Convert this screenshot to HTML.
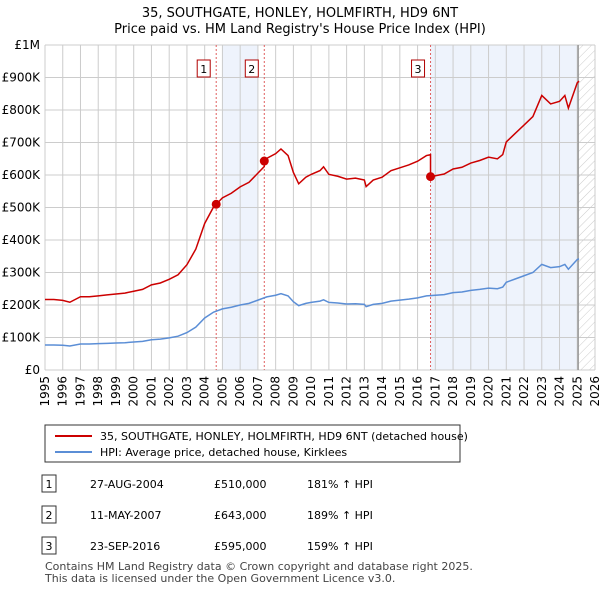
<!DOCTYPE html>
<html><head><meta charset="utf-8"><style>
body{margin:0;background:#fff;font-family:"Liberation Sans","DejaVu Sans",sans-serif;}
svg text{font-family:"DejaVu Sans","Liberation Sans",sans-serif;}
</style></head><body>
<svg id="c" width="600" height="590" xmlns="http://www.w3.org/2000/svg">
<defs><pattern id="hatch" width="6" height="6" patternUnits="userSpaceOnUse" patternTransform="rotate(45)"><line x1="0" y1="0" x2="0" y2="6" stroke="#ccc" stroke-width="1"/></pattern></defs>
<text x="300" y="17" text-anchor="middle" font-size="13" fill="#000">35, SOUTHGATE, HONLEY, HOLMFIRTH, HD9 6NT</text>
<text x="300" y="33" text-anchor="middle" font-size="13" fill="#000">Price paid vs. HM Land Registry's House Price Index (HPI)</text>
<g id="plot"></g>
<rect x="45" y="425" width="415" height="37" fill="#fff" stroke="#333"/>
<line x1="55" y1="436" x2="92" y2="436" stroke="#cc0000" stroke-width="2"/>
<text x="100" y="440" font-size="11">35, SOUTHGATE, HONLEY, HOLMFIRTH, HD9 6NT (detached house)</text>
<line x1="55" y1="452" x2="92" y2="452" stroke="#5b8ed6" stroke-width="2"/>
<text x="100" y="456" font-size="11">HPI: Average price, detached house, Kirklees</text>
<g id="table" font-size="11"></g>
<text x="45" y="570" font-size="11" fill="#444">Contains HM Land Registry data © Crown copyright and database right 2025.</text>
<text x="45" y="582" font-size="11" fill="#444">This data is licensed under the Open Government Licence v3.0.</text>
</svg>
<script>
const hpiYears=[1995,1995.5,1996,1996.4,1997,1997.5,1998,1998.5,1999,1999.5,2000,2000.5,2001,2001.5,2002,2002.5,2003,2003.5,2004,2004.5,2005,2005.5,2006,2006.5,2007,2007.5,2008,2008.3,2008.7,2009,2009.3,2009.7,2010,2010.5,2010.7,2011,2011.5,2012,2012.5,2013,2013.1,2013.5,2014,2014.5,2015,2015.5,2016,2016.5,2017,2017.5,2018,2018.5,2019,2019.5,2020,2020.5,2020.8,2021,2021.5,2022,2022.5,2023,2023.5,2024,2024.3,2024.5,2025,2025.1];
const hpiValues=[77,77,76,74,80,80,81,82,83,84,86,88,93,95,99,104,115,132,160,178,188,193,200,205,215,225,230,235,228,210,198,205,208,212,216,208,206,203,204,202,195,202,205,212,215,218,222,228,230,232,238,240,245,248,252,250,255,270,280,290,300,325,315,318,325,310,340,342];
const saleYears=[2004.65,2007.36,2016.73];
const salePrices=[510,643,595];
const saleLabels=["1","2","3"];
const saleDates=["27-AUG-2004","11-MAY-2007","23-SEP-2016"];
const salePriceText=["£510,000","£643,000","£595,000"];
const saleHpiText=["181% ↑ HPI","189% ↑ HPI","159% ↑ HPI"];
const yTicks=[0,100,200,300,400,500,600,700,800,900,1000];
const yTickLabels=["£0","£100K","£200K","£300K","£400K","£500K","£600K","£700K","£800K","£900K","£1M"];
const xTicks=[1995,1996,1997,1998,1999,2000,2001,2002,2003,2004,2005,2006,2007,2008,2009,2010,2011,2012,2013,2014,2015,2016,2017,2018,2019,2020,2021,2022,2023,2024,2025,2026];

const L=45,R=595,T=45,B=370,X0=1995,X1=2026;
const xs=v=>L+(v-X0)/(X1-X0)*(R-L);
const ys=v=>B-v/1000*(B-T);
const NS="http://www.w3.org/2000/svg";
const plot=document.getElementById('plot');
function mk(tag,attrs,parent){const e=document.createElementNS(NS,tag);for(const k in attrs)e.setAttribute(k,attrs[k]);(parent||plot).appendChild(e);return e;}
function hpiAt(y){for(let i=1;i<hpiYears.length;i++){if(y<=hpiYears[i]){const f=(y-hpiYears[i-1])/(hpiYears[i]-hpiYears[i-1]);return hpiValues[i-1]+f*(hpiValues[i]-hpiValues[i-1]);}}return hpiValues[hpiValues.length-1];}
let e=mk('rect',{x:xs(2005),y:T,width:xs(2007)-xs(2005),height:B-T,fill:'#eef3fc'});


e=mk('rect',{x:xs(saleYears[2]),y:T,width:xs(2025.05)-xs(saleYears[2]),height:B-T,fill:'#eef3fc'});


e=mk('rect',{x:xs(2025.05),y:T,width:R-xs(2025.05),height:B-T,fill:'url(#hatch)'});


yTicks.forEach((t,i)=>{
 const g=mk('line',{x1:L,x2:R,y1:ys(t),y2:ys(t),stroke:'#ccc','stroke-width':1});
 
 
 const tx=mk('text',{x:L-5,y:ys(t)+4,'text-anchor':'end','font-size':12});
 tx.textContent=yTickLabels[i];
 
 
});
xTicks.forEach(t=>{
 const g=mk('line',{x1:xs(t),x2:xs(t),y1:T,y2:B,stroke:'#ccc','stroke-width':1});
 
 
 const tx=mk('text',{x:0,y:0,'text-anchor':'end','font-size':12,transform:`translate(${xs(t)+4},${B+6}) rotate(-90)`});
 tx.textContent=t;
 
 
});
e=mk('line',{x1:xs(2025.05),x2:xs(2025.05),y1:T,y2:B,stroke:'#999','stroke-width':1.5});


saleYears.forEach((s,i)=>{
 const l=mk('line',{x1:xs(s),x2:xs(s),y1:T,y2:B,stroke:'#e06060','stroke-width':1,'stroke-dasharray':'2,2'});
 
 
 const bx=xs(s)-20+7;
 const r=mk('rect',{x:bx-6,y:60,width:13,height:17,fill:'#fff',stroke:'#b00000'});
 
 
 const tx=mk('text',{x:bx+0.5,y:73,'text-anchor':'middle','font-size':11});
 tx.textContent=saleLabels[i];
 
 
});
const ratios=saleYears.map((s,i)=>salePrices[i]/hpiAt(s));
function ratioAt(y){let r=ratios[0];saleYears.forEach((s,i)=>{if(y>=s)r=ratios[i];});return r;}
let pts=[];hpiYears.forEach((y,i)=>pts.push([xs(y),ys(hpiValues[i])]));
e=mk('polyline',{points:pts.map(p=>p.join(',')).join(' '),fill:'none',stroke:'#5b8ed6','stroke-width':1.5});


let allY=hpiYears.concat(saleYears).concat(saleYears.map(s=>s-0.001)).sort((a,b)=>a-b);
let rp=allY.map(y=>{const r=(y<saleYears[0])?ratios[0]:ratioAt(y);return [xs(y),ys(hpiAt(y)*r)];});
e=mk('polyline',{points:rp.map(p=>p.join(',')).join(' '),fill:'none',stroke:'#cc0000','stroke-width':1.5});


saleYears.forEach((s,i)=>{
 const c=mk('circle',{cx:xs(s),cy:ys(salePrices[i]),r:4.5,fill:'#cc0000'});
 
 
});
const tb=document.getElementById('table');
saleYears.forEach((s,i)=>{
 const y=484+i*31;
 const r=mk('rect',{x:42,y:y-9,width:14,height:17,fill:'#fff',stroke:'#333'},tb);
 
 
 const cols=[[49,saleLabels[i],'middle'],[90,saleDates[i],'start'],[214,salePriceText[i],'start'],[307,saleHpiText[i],'start']];
 cols.forEach(c=>{const t=mk('text',{x:c[0],y:y+4,'text-anchor':c[2]},tb);t.textContent=c[1];
 
 });
});
</script>
</body></html>
